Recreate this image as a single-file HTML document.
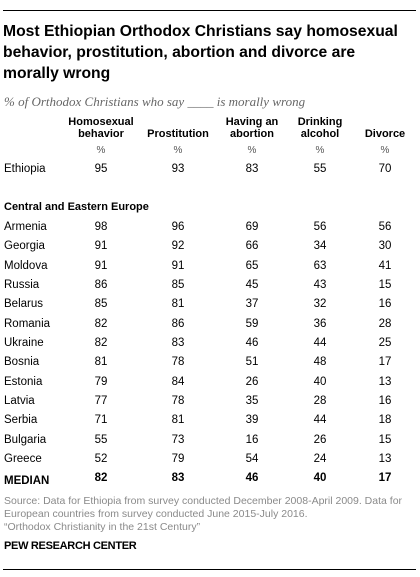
<!DOCTYPE html>
<html><head><meta charset="utf-8"><style>
body{margin:0;width:420px;height:577px;background:#fff;font-family:"Liberation Sans",sans-serif;position:relative;overflow:hidden;color:#000}
.a{position:absolute;white-space:nowrap}
.c{transform:translateX(-50%);text-align:center}
.rule{position:absolute;left:3px;width:413px;height:1px;background:#000}
</style></head><body>
<div class="rule" style="top:10px"></div>
<div class="a" style="left:3px;top:21px;font-size:15.7px;font-weight:bold;line-height:21px;color:#000">Most Ethiopian Orthodox Christians say homosexual<br>behavior, prostitution, abortion and divorce are<br>morally wrong</div>
<div class="a" style="left:4px;top:94px;font-family:'Liberation Serif',serif;font-style:italic;font-size:13px;color:#666">% of Orthodox Christians who say ____ is morally wrong</div>
<div id="tbl"></div>
<div class="a" style="left:4px;top:495px;font-size:10.5px;line-height:13px;color:#8a8a8a">Source: Data for Ethiopia from survey conducted December 2008-April 2009. Data for<br>European countries from survey conducted June 2015-July 2016.<br>“Orthodox Christianity in the 21st Century”</div>
<div class="a" style="left:4px;top:540px;font-size:11px;font-weight:bold;letter-spacing:-0.3px">PEW RESEARCH CENTER</div>
<div class="rule" style="top:569px"></div>
<script>
const columns=["Homosexual<br>behavior","Prostitution","Having an<br>abortion","Drinking<br>alcohol","Divorce"];
const ethiopia=[95,93,83,55,70];
const countries=["Armenia","Georgia","Moldova","Russia","Belarus","Romania","Ukraine","Bosnia","Estonia","Latvia","Serbia","Bulgaria","Greece"];
const values=[[98,96,69,56,56],[91,92,66,34,30],[91,91,65,63,41],[86,85,45,43,15],[85,81,37,32,16],[82,86,59,36,28],[82,83,46,44,25],[81,78,51,48,17],[79,84,26,40,13],[77,78,35,28,16],[71,81,39,44,18],[55,73,16,26,15],[52,79,54,24,13]];
const median=[82,83,46,40,17];
const cx=[101,178,252,320,385];
const T=document.getElementById('tbl');
function add(html,x,y,style,center,name){
  const d=document.createElement('div');
  d.className='a'+(center?' c':'');
  d.style.cssText='left:'+x+'px;top:'+y+'px;'+(style||'');
  d.innerHTML=html;
  
  
  T.appendChild(d);
}
columns.forEach((c,i)=>{
  const two=c.indexOf('<br>')>=0;
  add(c,cx[i],two?116:128,'font-size:11px;font-weight:bold;line-height:12px',true,'column-header');
  add('%',cx[i],145,'font-size:10px;color:#555',true,'percent-sign');
});
add('Ethiopia',4,163,'font-size:11.5px',false,'row-label');
ethiopia.forEach((v,i)=>add(v,cx[i],163,'font-size:11.5px',true,'cell-value'));
add('Central and Eastern Europe',4,201,'font-size:11px;font-weight:bold',false,'section-header');
countries.forEach((n,r)=>{
  const y=221+r*19.33;
  add(n,4,y,'font-size:11.5px',false,'row-label');
  values[r].forEach((v,i)=>add(v,cx[i],y,'font-size:11.5px',true,'cell-value'));
});
add('MEDIAN',4,475,'font-size:11.5px;font-weight:bold',false,'median-label');
median.forEach((v,i)=>add(v,cx[i],472,'font-size:11.5px;font-weight:bold',true,'median-value'));
</script>
</body></html>
